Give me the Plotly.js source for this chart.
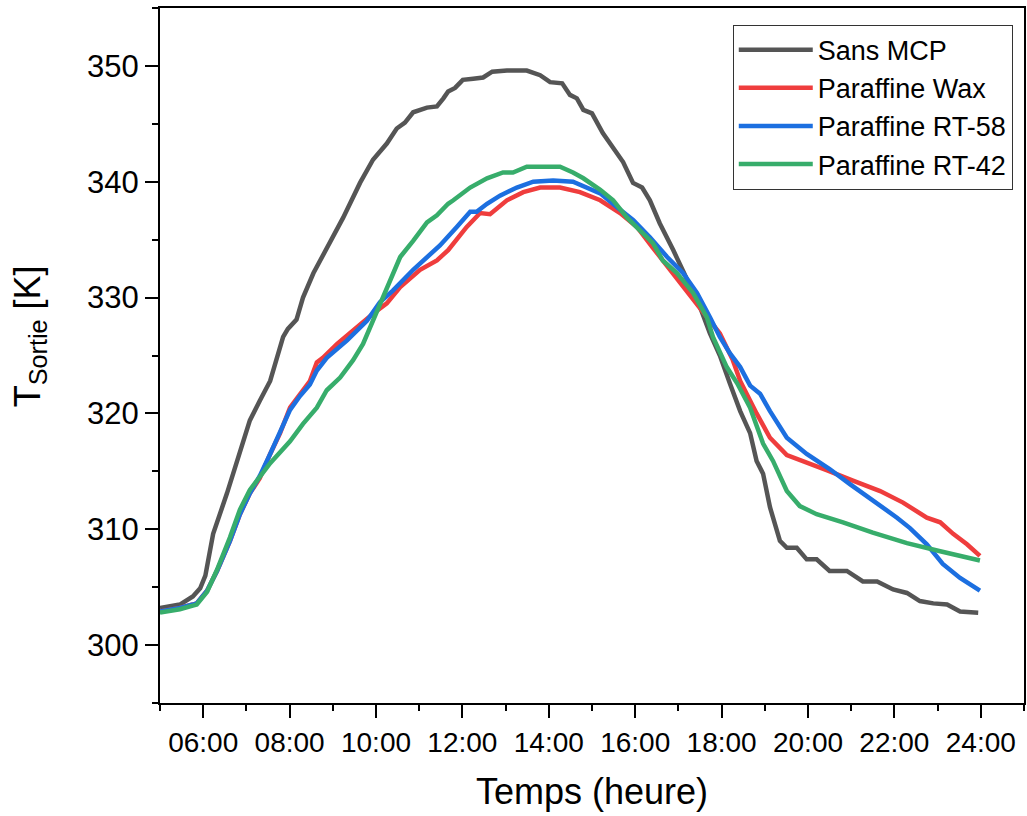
<!DOCTYPE html>
<html>
<head>
<meta charset="utf-8">
<script src="https://cdn.plot.ly/plotly-3.0.1.min.js"></script>
<style>
html,body{margin:0;padding:0;background:#fff;}
#chart{width:1027px;height:816px;}
</style>
</head>
<body>
<div id="chart"></div>
<script>
// ---- Data (time in hours, temperature in K) ----
const seriesNames = ["Sans MCP", "Paraffine Wax", "Paraffine RT-58", "Paraffine RT-42"];

const xSans = [5.0, 5.46, 5.76, 5.93, 6.05, 6.16, 6.23, 6.55, 6.85, 7.08, 7.31, 7.55, 7.85, 7.96, 8.16, 8.31, 8.55, 8.86, 9.24, 9.63, 9.93, 10.25, 10.48, 10.67, 10.86, 11.18, 11.41, 11.56, 11.67, 11.83, 12.01, 12.25, 12.48, 12.69, 13.03, 13.49, 13.80, 14.03, 14.31, 14.49, 14.65, 14.80, 15.0, 15.25, 15.49, 15.72, 15.95, 16.16, 16.34, 16.57, 16.88, 17.2, 17.5, 17.73, 17.96, 18.19, 18.43, 18.66, 18.81, 18.96, 19.12, 19.35, 19.51, 19.74, 19.97, 20.2, 20.5, 20.9, 21.27, 21.6, 21.97, 22.29, 22.59, 22.9, 23.22, 23.52, 23.94];
const ySans = [303.2, 303.5, 304.2, 304.9, 306.0, 308.4, 309.6, 313.1, 316.5, 319.4, 321.1, 322.8, 326.6, 327.3, 328.1, 330.0, 332.1, 334.3, 336.9, 339.9, 341.9, 343.3, 344.6, 345.1, 346.0, 346.4, 346.5, 347.2, 347.8, 348.1, 348.8, 348.9, 349.0, 349.5, 349.6, 349.6, 349.2, 348.6, 348.5, 347.5, 347.2, 346.2, 345.9, 344.2, 343.0, 341.7, 339.9, 339.5, 338.4, 336.4, 334.1, 331.5, 329.2, 326.9, 325.0, 322.6, 320.2, 318.3, 315.9, 314.8, 311.9, 309.0, 308.4, 308.4, 307.4, 307.4, 306.4, 306.4, 305.5, 305.5, 304.8, 304.5, 303.8, 303.6, 303.5, 302.9, 302.8];

const xWax = [5.0, 5.46, 5.76, 5.85, 6.09, 6.32, 6.62, 6.85, 7.08, 7.31, 7.55, 7.78, 8.01, 8.24, 8.47, 8.63, 8.77, 9.10, 9.47, 9.93, 10.25, 10.56, 11.02, 11.41, 11.67, 12.1, 12.41, 12.64, 13.03, 13.41, 13.8, 14.26, 14.72, 15.19, 15.65, 16.04, 16.41, 16.81, 17.2, 17.57, 17.96, 18.26, 18.43, 18.81, 19.12, 19.51, 19.88, 20.43, 21.04, 21.67, 22.2, 22.75, 23.06, 23.36, 23.68, 23.98];
const yWax = [302.9, 303.2, 303.5, 303.6, 304.7, 306.4, 309.0, 311.3, 313.1, 314.4, 316.5, 318.3, 320.5, 321.7, 322.8, 324.4, 324.8, 326.0, 327.2, 328.6, 329.5, 330.9, 332.4, 333.2, 334.1, 336.1, 337.3, 337.2, 338.4, 339.1, 339.5, 339.5, 339.1, 338.4, 337.3, 336.1, 334.3, 332.4, 330.6, 328.9, 326.9, 324.6, 322.8, 320.0, 317.9, 316.4, 315.9, 315.1, 314.2, 313.3, 312.3, 311.0, 310.6, 309.6, 308.7, 307.7];

const xRT58 = [5.0, 5.46, 5.76, 5.85, 6.09, 6.32, 6.62, 6.85, 7.08, 7.31, 7.55, 7.78, 8.01, 8.24, 8.47, 8.63, 8.86, 9.33, 9.79, 10.09, 10.39, 10.86, 11.18, 11.48, 11.87, 12.18, 12.33, 12.57, 12.87, 13.26, 13.64, 14.10, 14.56, 14.88, 15.19, 15.58, 15.95, 16.34, 16.74, 17.11, 17.43, 17.73, 17.96, 18.19, 18.43, 18.66, 18.89, 19.12, 19.51, 19.97, 20.5, 20.97, 21.5, 22.06, 22.36, 22.75, 23.12, 23.52, 23.98];
const yRT58 = [302.9, 303.2, 303.5, 303.6, 304.7, 306.4, 309.0, 311.3, 313.1, 314.6, 316.5, 318.3, 320.3, 321.5, 322.5, 323.7, 324.8, 326.3, 328.0, 329.6, 330.6, 332.4, 333.5, 334.5, 336.1, 337.4, 337.4, 338.1, 338.8, 339.5, 340.0, 340.1, 340.0, 339.5, 339.0, 337.8, 336.7, 335.2, 333.5, 332.1, 330.4, 328.3, 326.6, 325.2, 324.0, 322.4, 321.7, 320.2, 317.9, 316.5, 315.2, 313.9, 312.5, 311.0, 310.1, 308.7, 307.0, 305.8, 304.7];

const xRT42 = [5.0, 5.46, 5.76, 5.85, 6.09, 6.32, 6.62, 6.85, 7.08, 7.31, 7.55, 8.01, 8.31, 8.63, 8.86, 9.17, 9.47, 9.70, 9.93, 10.16, 10.25, 10.56, 10.86, 11.18, 11.41, 11.67, 11.79, 12.18, 12.57, 12.94, 13.17, 13.49, 13.80, 14.26, 14.56, 14.8, 15.19, 15.49, 15.81, 16.11, 16.41, 16.64, 16.97, 17.34, 17.66, 17.8, 18.12, 18.36, 18.66, 18.96, 19.19, 19.51, 19.81, 20.2, 20.81, 21.5, 22.29, 23.06, 23.98];
const yRT42 = [302.8, 303.1, 303.4, 303.5, 304.6, 306.5, 309.3, 311.7, 313.4, 314.6, 315.7, 317.6, 319.1, 320.5, 322.0, 323.1, 324.6, 326.0, 328.0, 330.1, 330.9, 333.5, 334.9, 336.5, 337.1, 338.1, 338.4, 339.5, 340.3, 340.8, 340.8, 341.3, 341.3, 341.3, 340.8, 340.3, 339.3, 338.4, 336.9, 335.8, 334.7, 333.2, 332.1, 330.4, 328.3, 326.6, 324.0, 322.6, 320.5, 317.4, 315.9, 313.3, 312.0, 311.3, 310.6, 309.7, 308.8, 308.1, 307.3];

const xTickVals = [6, 8, 10, 12, 14, 16, 18, 20, 22, 24];
const xTickText = ["06:00", "08:00", "10:00", "12:00", "14:00", "16:00", "18:00", "20:00", "22:00", "24:00"];
const xMinorVals = [5, 7, 9, 11, 13, 15, 17, 19, 21, 23, 25];
const xTitle = "Temps (heure)";
const yTitle = "T<sub>Sortie</sub> [K]";

const colors = ["#555555", "#ef3d3d", "#1c6fe0", "#37ad6b"];
const FONT = "Arial, 'Liberation Sans', sans-serif";

const xs = [xSans, xWax, xRT58, xRT42];
const ys = [ySans, yWax, yRT58, yRT42];
const traces = seriesNames.map((n, i) => ({
  type: "scatter", mode: "lines", name: n,
  x: xs[i], y: ys[i],
  line: {color: colors[i], width: 4.5}
}));

const layout = {
  width: 1027, height: 816,
  margin: {l: 160, r: 3, t: 8, b: 113},
  paper_bgcolor: "#fff", plot_bgcolor: "#fff",
  font: {family: FONT, color: "#000"},
  showlegend: true,
  legend: {
    x: 0.987, xanchor: "right", y: 0.976, yanchor: "top",
    bgcolor: "#fff", bordercolor: "#333", borderwidth: 1,
    font: {family: FONT, size: 27, color: "#000"},
    itemwidth: 74, tracegroupgap: 0
  },
  xaxis: {
    range: [5, 25], showgrid: false, zeroline: false,
    showline: true, linecolor: "#000", linewidth: 2, mirror: true,
    tickmode: "array", tickvals: xTickVals, ticktext: xTickText,
    ticks: "outside", ticklen: 13, tickwidth: 2, tickcolor: "#000",
    tickfont: {family: FONT, size: 28, color: "#000"},
    minor: {tickmode: "array", tickvals: xMinorVals, ticks: "outside", ticklen: 6, tickwidth: 2, tickcolor: "#000", showgrid: false},
    title: {text: xTitle, font: {family: FONT, size: 36, color: "#000"}, standoff: 22}
  },
  yaxis: {
    range: [295, 355], showgrid: false, zeroline: false,
    showline: true, linecolor: "#000", linewidth: 2, mirror: true,
    tickmode: "linear", tick0: 300, dtick: 10,
    ticks: "outside", ticklen: 13, tickwidth: 2, tickcolor: "#000",
    tickfont: {family: FONT, size: 31, color: "#000"},
    minor: {dtick: 5, tick0: 295, ticks: "outside", ticklen: 6, tickwidth: 2, tickcolor: "#000", showgrid: false}
  },
  annotations: [{
    text: yTitle, xref: "paper", yref: "paper",
    x: -0.151, y: 0.527, xanchor: "center", yanchor: "middle",
    textangle: -90, showarrow: false,
    font: {family: FONT, size: 36, color: "#000"}
  }]
};

Plotly.newPlot("chart", traces, layout, {displayModeBar: false, staticPlot: true});
</script>
</body>
</html>
